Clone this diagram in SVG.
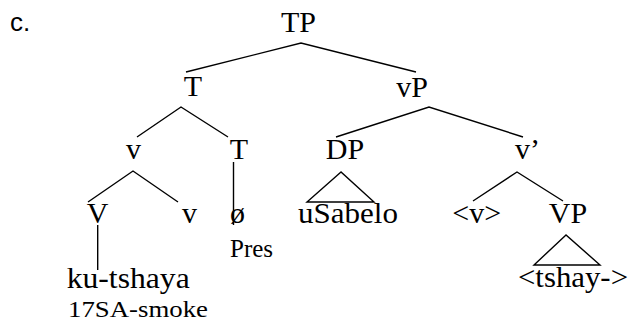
<svg xmlns="http://www.w3.org/2000/svg" width="629" height="324" viewBox="0 0 629 324">
<style>
.lab{font-family:"Liberation Serif","Times New Roman",serif;font-size:30px;fill:#000}
.mid{text-anchor:middle}
.sm{font-family:"Liberation Serif","Times New Roman",serif;font-size:25px;fill:#000}
.gl{font-family:"Liberation Serif","Times New Roman",serif;font-size:23px;fill:#000}
.sans{font-family:"Liberation Sans",Arial,sans-serif;font-size:26px;fill:#000}
.ln{stroke:#000;stroke-width:1.4;fill:none;stroke-linejoin:miter}
</style>
<rect width="629" height="324" fill="#fff"/>
<text class="sans" x="10" y="31">c.</text>
<g id="connectors">
<polyline class="ln" points="186,72 301,43 416,72"/>
<polyline class="ln" points="137,137 181,107 228,137"/>
<polyline class="ln" points="336,137 429,107 523,137"/>
<polyline class="ln" points="88,202 133,171 178,202"/>
<line class="ln" x1="233.5" y1="162" x2="233.5" y2="225"/>
<polyline class="ln" points="473,201 517,172 563,201"/>
<line class="ln" x1="97.7" y1="225" x2="97.7" y2="270"/>
<polygon class="ln" points="341,172 307,202 374,202"/>
<polygon class="ln" points="566,235 534,265 600,265"/>
</g>
<g id="TP"><text class="lab mid" x="298.5" y="32">TP</text></g>
<g id="T1"><text class="lab mid" x="193" y="96">T</text></g>
<g id="vP"><text class="lab mid" x="412" y="97">vP</text></g>
<g id="v1"><text class="lab mid" x="133.5" y="159">v</text></g>
<g id="T2"><text class="lab mid" x="239" y="159">T</text></g>
<g id="DP"><text class="lab mid" x="345" y="159">DP</text></g>
<g id="vbar"><text class="lab mid" x="527.5" y="159">v’</text></g>
<g id="V"><text class="lab mid" x="97.5" y="223">V</text></g>
<g id="v2"><text class="lab mid" x="189.5" y="223">v</text></g>
<g id="null"><text class="lab mid" x="237.5" y="223">ø</text><text class="sm" x="230" y="257">Pres</text></g>
<g id="uSabelo"><text class="lab" x="298" y="223" textLength="100" lengthAdjust="spacingAndGlyphs">uSabelo</text></g>
<g id="vtrace"><text class="lab mid" x="476.7" y="223">&lt;v&gt;</text></g>
<g id="VP"><text class="lab mid" x="568" y="223">VP</text></g>
<g id="tshay"><text class="lab" x="518" y="287" textLength="110" lengthAdjust="spacingAndGlyphs">&lt;tshay-&gt;</text></g>
<g id="kutshaya"><text class="lab" x="66.7" y="288" textLength="123" lengthAdjust="spacingAndGlyphs">ku-tshaya</text><text class="gl" x="68" y="317" textLength="140" lengthAdjust="spacingAndGlyphs">17SA-smoke</text></g>
</svg>
